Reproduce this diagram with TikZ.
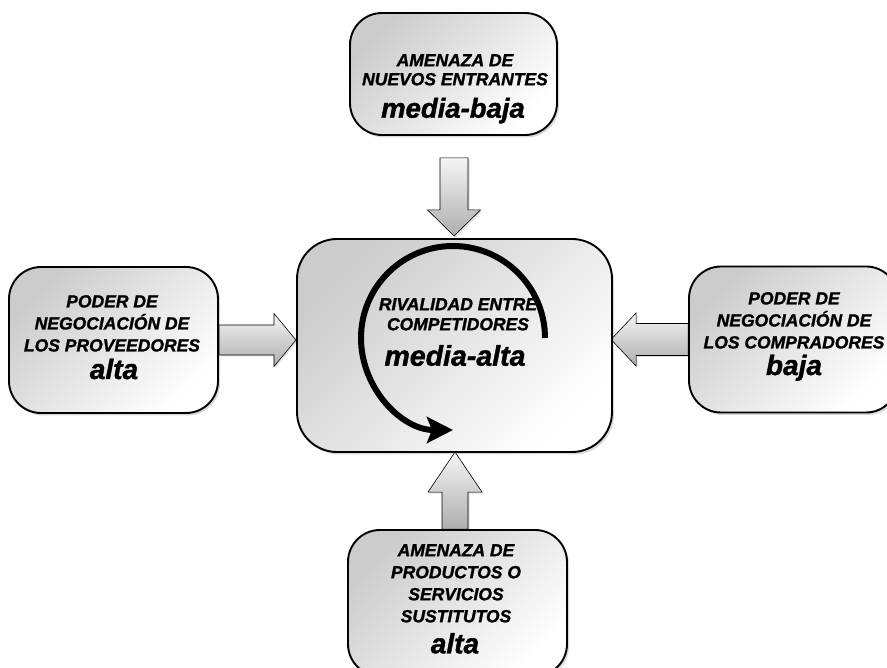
\documentclass[tikz,border=0pt]{standalone}
\usepackage{fontspec}
\setmainfont{Liberation Sans}[BoldItalicFeatures={FakeBold=1.4}]
\usetikzlibrary{shadows,calc,arrows.meta}

\pgfdeclarelayer{back}
\pgfsetlayers{back,main}

\tikzset{
  force/.style={draw=black, line width=1.9pt, rounded corners=32pt,
    top color=black!20, bottom color=white, shading angle=45,
    drop shadow={shadow xshift=2pt, shadow yshift=-2.5pt, opacity=0.3},
    inner sep=0pt},
  heading/.style={align=center, inner sep=0pt, anchor=north,
    font=\bfseries\itshape\fontsize{17.5}{22}\selectfont},
  rating/.style={inner sep=0pt, anchor=base,
    font=\bfseries\itshape\fontsize{28}{30}\selectfont},
  fat/.style={draw=black, line width=0.6pt,
    top color=black!4, bottom color=black!32,
    drop shadow={shadow xshift=1.5pt, shadow yshift=-1.5pt, opacity=0.25}},
  swirl/.style={line width=6pt, -{Stealth[length=26pt,width=26pt,inset=5pt]}}
}

% block arrow: #1 tail, #2 direction, #3 length, #4 head length,
% #5 half shaft width, #6 half head width
\newcommand\blockarrow[6]{%
  \begin{scope}[shift={#1}, rotate=#2]
    \draw[fat] (0,-#5) -- ({#3-#4},-#5) -- ({#3-#4},-#6) -- (#3,0)
      -- ({#3-#4},#6) -- ({#3-#4},#5) -- (0,#5) -- cycle;
  \end{scope}}

\begin{document}
\begin{tikzpicture}[x=1pt,y=-1pt]
  \useasboundingbox (0,0) rectangle (887,668);

  % the five forces
  \node[force, minimum width=207pt, minimum height=122pt] (entrants) at (453.5,74) {};
  \node[force, rounded corners=40pt, minimum width=315pt, minimum height=213pt] (rivalry) at (454.5,345.5) {};
  \node[force, minimum width=209pt, minimum height=146pt] (suppliers) at (113.5,340) {};
  \node[force, minimum width=209pt, minimum height=146pt] (buyers) at (793.5,339.5) {};
  \node[force, minimum width=219pt, minimum height=146pt] (substitutes) at (457.5,603) {};

  % pressure arrows towards the rivalry box
  \begin{pgfonlayer}{back}
    \blockarrow{($(entrants.south)+(0.5,22)$)}{-90}{78}{26}{14}{26.5}
    \blockarrow{(suppliers.east)}{0}{77}{22}{15}{26.5}
    \blockarrow{(buyers.west)}{180}{77}{25}{16}{26.5}
    \blockarrow{($(substitutes.north)+(-2.5,0)$)}{90}{77}{40}{13}{27}
  \end{pgfonlayer}

  % rivalry cycle
  \coordinate (spin) at (453,338);
  \draw[swirl] (spin) ++(92pt,0pt) arc[start angle=0, end angle=270, radius=92pt];

  % labels
  \node[heading, font=\bfseries\itshape\fontsize{17.5}{19}\selectfont] (entrantsT) at (455,54) {AMENAZA DE\\NUEVOS ENTRANTES};
  \node[rating, font=\bfseries\itshape\fontsize{27.5}{30}\selectfont] (entrantsV) at (453,117.7) {media-baja};

  \node[heading, font=\bfseries\itshape\fontsize{17.5}{20}\selectfont] (rivalryT) at (458,298) {RIVALIDAD ENTRE\\COMPETIDORES};
  \node[rating, font=\bfseries\itshape\fontsize{28.5}{30}\selectfont] (rivalryV) at (455,365.7) {media-alta};

  \node[heading] (suppliersT) at (112,295) {PODER DE\\NEGOCIACIÓN DE\\LOS PROVEEDORES};
  \node[rating] (suppliersV) at (114,379) {alta};

  \node[heading] (buyersT) at (794,292) {PODER DE\\NEGOCIACIÓN DE\\LOS COMPRADORES};
  \node[rating] (buyersV) at (794,375) {baja};

  \node[heading] (substitutesT) at (456,544) {AMENAZA DE\\PRODUCTOS O\\SERVICIOS\\SUSTITUTOS};
  \node[rating] (substitutesV) at (455,653.3) {alta};
\end{tikzpicture}
\end{document}
